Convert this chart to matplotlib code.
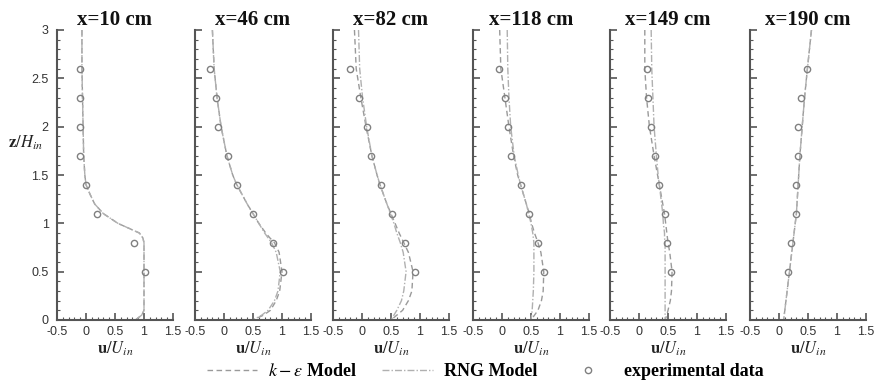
import numpy as np
from matplotlib import pyplot as plt
from matplotlib.ticker import MultipleLocator
from matplotlib.lines import Line2D

plt.rcParams["mathtext.fontset"] = "stix"
plt.rcParams["axes.unicode_minus"] = False

titles = ["x=10 cm", "x=46 cm", "x=82 cm", "x=118 cm", "x=149 cm", "x=190 cm"]

z_exp = [2.6, 2.3, 2.0, 1.7, 1.4, 1.1, 0.8, 0.5]
u_exp = [
    [-0.11, -0.11, -0.10, -0.10, 0.00, 0.19, 0.82, 1.01],
    [-0.25, -0.14, -0.10, 0.07, 0.23, 0.50, 0.85, 1.02],
    [-0.20, -0.05, 0.09, 0.15, 0.32, 0.52, 0.74, 0.91],
    [-0.05, 0.06, 0.10, 0.16, 0.32, 0.46, 0.62, 0.73],
    [0.13, 0.15, 0.20, 0.28, 0.35, 0.44, 0.48, 0.55],
    [0.48, 0.38, 0.33, 0.33, 0.30, 0.29, 0.20, 0.16],
]

z_model = [3.0, 2.6, 2.3, 2.0, 1.7, 1.5, 1.4, 1.3, 1.2, 1.1, 1.0, 0.9, 0.85, 0.8, 0.7, 0.5, 0.3, 0.2, 0.1, 0.05, 0.0]
u_ke = [
    [-0.07, -0.07, -0.06, -0.05, -0.04, -0.02, 0.00, 0.07, 0.15, 0.30, 0.55, 0.92, 0.98, 1.00, 1.00, 1.00, 1.00, 1.00, 1.00, 0.96, 0.85],
    [-0.20, -0.17, -0.12, -0.05, 0.05, 0.15, 0.22, 0.31, 0.40, 0.50, 0.60, 0.72, 0.79, 0.87, 0.95, 1.00, 0.96, 0.90, 0.80, 0.68, 0.50],
    [-0.13, -0.10, -0.02, 0.07, 0.17, 0.26, 0.31, 0.37, 0.43, 0.50, 0.57, 0.64, 0.68, 0.72, 0.80, 0.88, 0.86, 0.80, 0.70, 0.60, 0.50],
    [-0.04, -0.02, 0.05, 0.12, 0.20, 0.27, 0.32, 0.37, 0.42, 0.47, 0.51, 0.56, 0.59, 0.62, 0.67, 0.72, 0.71, 0.68, 0.62, 0.56, 0.50],
    [0.10, 0.10, 0.13, 0.18, 0.26, 0.32, 0.35, 0.38, 0.41, 0.44, 0.46, 0.48, 0.49, 0.50, 0.53, 0.57, 0.56, 0.54, 0.50, 0.48, 0.45],
    [0.56, 0.49, 0.44, 0.40, 0.36, 0.34, 0.33, 0.32, 0.31, 0.30, 0.28, 0.26, 0.25, 0.24, 0.22, 0.18, 0.14, 0.12, 0.10, 0.09, 0.08],
]
u_rng = [
    [-0.07, -0.07, -0.06, -0.05, -0.04, -0.02, 0.00, 0.07, 0.15, 0.30, 0.55, 0.92, 0.98, 1.00, 1.00, 1.00, 1.00, 1.00, 1.00, 0.96, 0.85],
    [-0.20, -0.17, -0.12, -0.05, 0.05, 0.15, 0.22, 0.31, 0.40, 0.50, 0.60, 0.70, 0.76, 0.82, 0.90, 0.97, 0.93, 0.87, 0.76, 0.65, 0.50],
    [-0.06, -0.04, 0.01, 0.08, 0.17, 0.26, 0.31, 0.37, 0.43, 0.49, 0.55, 0.60, 0.63, 0.66, 0.71, 0.76, 0.72, 0.68, 0.60, 0.55, 0.50],
    [0.09, 0.10, 0.12, 0.15, 0.21, 0.28, 0.32, 0.37, 0.42, 0.46, 0.50, 0.53, 0.54, 0.55, 0.55, 0.55, 0.54, 0.53, 0.52, 0.51, 0.50],
    [0.21, 0.22, 0.24, 0.26, 0.30, 0.33, 0.35, 0.37, 0.39, 0.41, 0.42, 0.44, 0.44, 0.45, 0.45, 0.45, 0.45, 0.45, 0.45, 0.45, 0.45],
    [0.56, 0.49, 0.44, 0.40, 0.36, 0.34, 0.33, 0.32, 0.31, 0.30, 0.28, 0.26, 0.25, 0.24, 0.22, 0.18, 0.14, 0.12, 0.10, 0.09, 0.08],
]

fig = plt.figure(figsize=(8.74, 3.85), dpi=100)

lefts_px = [57, 195, 333, 473, 610, 750]
W, H = 874, 385
for i, lp in enumerate(lefts_px):
    ax = fig.add_axes([lp / W, 1 - 320 / H, 116 / W, 290 / H])
    ax.plot(u_ke[i], z_model, color="#9a9a9a", lw=1.0, ls=(0, (4, 2.5)))
    ax.plot(u_rng[i], z_model, color="#b0b0b0", lw=1.0, ls=(0, (5, 1.5, 1, 1.5)))
    ax.plot(u_exp[i], z_exp, ls="none", marker="o", ms=4.5, mfc="none",
            mec="#808080", mew=1.0)
    ax.set_xlim(-0.5, 1.5)
    ax.set_ylim(0, 3)
    for s in ("top", "right"):
        ax.spines[s].set_visible(False)
    for s in ("left", "bottom"):
        ax.spines[s].set_color("#555555")
        ax.spines[s].set_linewidth(1.5)
    ax.xaxis.set_major_locator(MultipleLocator(0.5))
    ax.xaxis.set_minor_locator(MultipleLocator(0.1))
    ax.yaxis.set_major_locator(MultipleLocator(0.5))
    ax.yaxis.set_minor_locator(MultipleLocator(0.1))
    ax.xaxis.set_major_formatter("{x:g}")
    ax.yaxis.set_major_formatter("{x:g}")
    ax.tick_params(which="both", direction="in", color="#555555",
                   labelsize=9, labelcolor="#333333", labelfontfamily="Liberation Sans")
    ax.tick_params(which="major", length=5, width=1.2)
    ax.tick_params(which="minor", length=2.5, width=0.8)
    ax.tick_params(axis="y", pad=6)
    ax.tick_params(axis="x", pad=4.5)
    if i > 0:
        ax.tick_params(axis="y", labelleft=False)
    else:
        ax.set_ylabel(r"$\mathbf{z}/\boldsymbol{H_{in}}$", rotation=0, fontsize=12,
                      color="#222222")
        ax.yaxis.set_label_coords(-0.27, 0.58)
    ax.set_xlabel(r"$\mathbf{u}/\boldsymbol{U_{in}}$", fontsize=12, labelpad=1, color="#222222")
    ax.set_title(titles[i], fontsize=15, fontweight="bold", family="Liberation Serif",
                 pad=1, color="#111111")

handles = [
    Line2D([], [], color="#9a9a9a", lw=1.0, ls=(0, (4, 2.5))),
    Line2D([], [], color="#b0b0b0", lw=1.0, ls=(0, (5, 1.5, 1, 1.5))),
    Line2D([], [], ls="none", marker="o", ms=4.5, mfc="none", mec="#808080"),
]
labels = [r"$k-\varepsilon$ Model", "RNG Model", "experimental data"]
fig.legend(handles, labels, loc="center", bbox_to_anchor=(0.555, 0.035), ncol=3,
           frameon=False, prop={"family": "Liberation Serif", "weight": "bold", "size": 13},
           handlelength=2.8, columnspacing=1.4, handletextpad=0.6)

fig.savefig("out.png", dpi=100)
